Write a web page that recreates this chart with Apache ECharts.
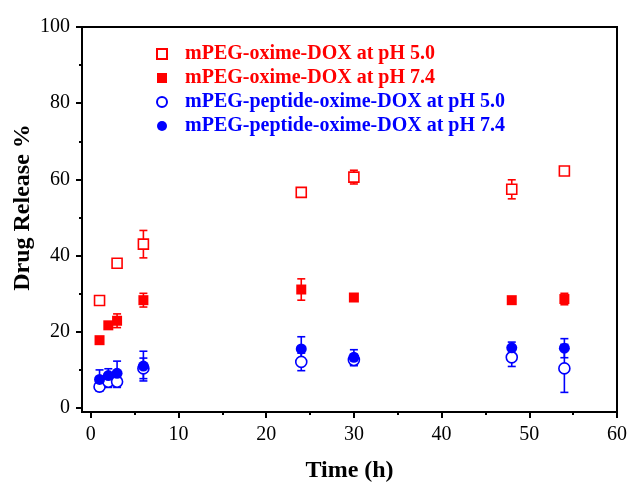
<!DOCTYPE html>
<html>
<head>
<meta charset="utf-8">
<script src="https://cdn.jsdelivr.net/npm/echarts@6/dist/echarts.min.js"></script>
<style>
  html, body { margin: 0; padding: 0; background: #fff; }
  #chart { width: 628px; height: 483px; }
</style>
</head>
<body>
<div id="chart"></div>
<script>
// sampling times (h)
const times = [1, 2, 3, 6, 24, 30, 48, 54];

// mPEG-oxime-DOX
const oxime50 = [28.2, null, 38.0, 43.0, 56.6, 60.6, 57.4, 62.2];
const oxime50Err = [1.2, null, 1.0, 3.6, 1.0, 1.8, 2.5, 0.7];
const oxime74 = [17.8, 21.7, 22.9, 28.3, 31.1, 29.0, 28.3, 28.6];
const oxime74Err = [0.8, 0.8, 1.8, 1.8, 2.8, 0.8, 0.8, 1.5];

// mPEG-peptide-oxime-DOX
const peptide50 = [5.6, 6.9, 6.9, 10.4, 12.1, 12.6, 13.3, 10.4];
const peptide50Err = [1.2, 1.5, 1.5, 2.7, 2.3, 1.5, 2.4, 6.3];
const peptide74 = [7.5, 8.5, 9.1, 11.0, 15.5, 13.3, 15.8, 15.7];
const peptide74Err = [2.5, 1.8, 3.2, 3.9, 3.2, 2.0, 1.5, 2.5];

const names = [
  'mPEG-oxime-DOX at pH 5.0',
  'mPEG-oxime-DOX at pH 7.4',
  'mPEG-peptide-oxime-DOX at pH 5.0',
  'mPEG-peptide-oxime-DOX at pH 7.4'
];

const RED = '#ff0000', BLUE = '#0000ff';
const FONT = 'Liberation Serif';

const xTicks = [0, 10, 20, 30, 40, 50, 60];
const xMinor = [5, 15, 25, 35, 45, 55];
const yTicks = [0, 20, 40, 60, 80, 100];
const yMinor = [10, 30, 50, 70, 90];

function pts(vals) {
  return times.map((t, i) => [t, vals[i]]).filter(p => p[1] != null);
}
function errPts(vals, errs) {
  return times.map((t, i) => [t, vals[i], errs[i]]).filter(p => p[1] != null);
}

// error bar with caps
function errorBar(color) {
  return function (params, api) {
    const x = api.value(0), y = api.value(1), e = api.value(2);
    const top = api.coord([x, y + e]);
    const bot = api.coord([x, y - e]);
    const hw = 4;
    const style = { stroke: color, lineWidth: 1.6 };
    return {
      type: 'group',
      children: [
        { type: 'line', shape: { x1: top[0], y1: top[1], x2: bot[0], y2: bot[1] }, style },
        { type: 'line', shape: { x1: top[0] - hw, y1: top[1], x2: top[0] + hw, y2: top[1] }, style },
        { type: 'line', shape: { x1: bot[0] - hw, y1: bot[1], x2: bot[0] + hw, y2: bot[1] }, style }
      ]
    };
  };
}

const sets = [
  { name: names[0], vals: oxime50, errs: oxime50Err, color: RED, symbol: 'rect', hollow: true },
  { name: names[1], vals: oxime74, errs: oxime74Err, color: RED, symbol: 'rect', hollow: false },
  { name: names[2], vals: peptide50, errs: peptide50Err, color: BLUE, symbol: 'circle', hollow: true },
  { name: names[3], vals: peptide74, errs: peptide74Err, color: BLUE, symbol: 'circle', hollow: false }
];

const series = [];
sets.forEach(s => {
  series.push({
    type: 'custom',
    renderItem: errorBar(s.color),
    data: errPts(s.vals, s.errs),
    encode: { x: 0, y: 1 },
    z: 1,
    silent: true
  });
});
sets.forEach(s => {
  series.push({
    name: s.name,
    type: 'scatter',
    symbol: s.symbol,
    symbolSize: s.symbol === 'rect' ? 10 : 11,
    itemStyle: s.hollow
      ? { color: '#fff', borderColor: s.color, borderWidth: 1.6, opacity: 1 }
      : { color: s.color, borderColor: s.color, borderWidth: 0, opacity: 1 },
    data: pts(s.vals),
    z: 3
  });
});

const axisText = { fontFamily: FONT, fontSize: 20, color: '#000' };
const nameText = { fontFamily: FONT, fontSize: 24, fontWeight: 'bold', color: '#000' };

const chart = echarts.init(document.getElementById('chart'), null, { renderer: 'canvas' });

chart.setOption({
  animation: false,
  backgroundColor: '#fff',
  grid: {
    left: 82, right: 11, top: 27, bottom: 71,
    containLabel: false, outerBoundsMode: 'none',
    show: true, borderColor: '#000', borderWidth: 2, backgroundColor: 'transparent'
  },
  legend: {
    orient: 'vertical',
    left: 151, top: 39,
    itemWidth: 10, itemHeight: 10,
    itemGap: 4,
    selectedMode: false,
    textStyle: { fontFamily: FONT, fontSize: 20, fontWeight: 'bold', lineHeight: 20, padding: [0, 0, 0, 13] },
    data: sets.map(s => ({ name: s.name, textStyle: { color: s.color } }))
  },
  xAxis: [{
    type: 'value', min: -1, max: 60,
    name: 'Time (h)', nameLocation: 'middle', nameGap: 47, nameMoveOverlap: false, nameTextStyle: nameText,
    axisLine: { show: true, onZero: false, lineStyle: { color: '#000', width: 2 } },
    axisTick: { show: true, inside: false, length: 6, customValues: xTicks, lineStyle: { color: '#000', width: 2 } },
    axisLabel: { customValues: xTicks, margin: 13, ...axisText },
    splitLine: { show: false }
  }, {
    type: 'value', min: -1, max: 60, position: 'bottom',
    axisLine: { show: false, onZero: false },
    axisTick: { show: true, length: 3, customValues: xMinor, lineStyle: { color: '#000', width: 2 } },
    axisLabel: { show: false },
    splitLine: { show: false }
  }],
  yAxis: [{
    type: 'value', min: -1.05, max: 100,
    name: 'Drug Release %', nameLocation: 'middle', nameGap: 47, nameMoveOverlap: false,
    nameTextStyle: { ...nameText, padding: [0, 0, 0, 24] },
    axisLine: { show: true, onZero: false, lineStyle: { color: '#000', width: 2 } },
    axisTick: { show: true, inside: false, length: 6, customValues: yTicks, lineStyle: { color: '#000', width: 2 } },
    axisLabel: { customValues: yTicks, margin: 12, ...axisText },
    splitLine: { show: false }
  }, {
    type: 'value', min: -1.05, max: 100, position: 'left',
    axisLine: { show: false, onZero: false },
    axisTick: { show: true, length: 3, customValues: yMinor, lineStyle: { color: '#000', width: 2 } },
    axisLabel: { show: false },
    splitLine: { show: false }
  }],
  series
});
</script>
</body>
</html>
